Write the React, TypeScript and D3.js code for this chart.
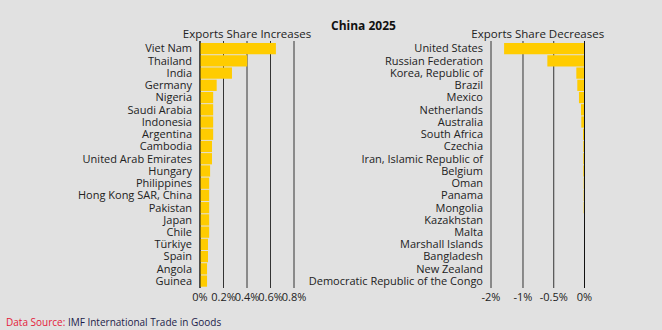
import React from "react";
import * as d3 from "d3";

const W = 662;
const H = 330;

const incCountries = [
  "Viet Nam", "Thailand", "India", "Germany", "Nigeria", "Saudi Arabia", "Indonesia",
  "Argentina", "Cambodia", "United Arab Emirates", "Hungary", "Philippines",
  "Hong Kong SAR, China", "Pakistan", "Japan", "Chile", "Türkiye", "Spain", "Angola", "Guinea",
];
const incValues = [
  0.646, 0.402, 0.272, 0.142, 0.112, 0.112, 0.112, 0.112, 0.102, 0.102, 0.086, 0.078,
  0.078, 0.078, 0.078, 0.078, 0.068, 0.068, 0.06, 0.06,
];

const decCountries = [
  "United States", "Russian Federation", "Korea, Republic of", "Brazil", "Mexico",
  "Netherlands", "Australia", "South Africa", "Czechia", "Iran, Islamic Republic of",
  "Belgium", "Oman", "Panama", "Mongolia", "Kazakhstan", "Malta", "Marshall Islands",
  "Bangladesh", "New Zealand", "Democratic Republic of the Congo",
];
const decValues = [
  -1.307, -0.604, -0.133, -0.117, -0.09, -0.057, -0.052, -0.024, -0.02, -0.02, -0.02,
  -0.014, -0.014, -0.014, -0.008, -0.008, -0.006, -0.006, -0.005, -0.005,
];

const incTicks = [0, 0.2, 0.4, 0.6, 0.8];
const incTickLabels = ["0%", "0.2%", "0.4%", "0.6%", "0.8%"];
const decTicks = [-1.52, -1, -0.5, 0];
const decTickLabels = ["-2%", "-1%", "-0.5%", "0%"];

const title = "China 2025";
const incTitle = "Exports Share Increases";
const decTitle = "Exports Share Decreases";

const FONT = "'Open Sans', sans-serif";
const BAR = "#ffcc00";
const TEXT = "#222";

function Panel({ names, values, domain, range, ticks, tickLabels, heading, labelX }: any) {
  const x = d3.scaleLinear().domain(domain).range(range);
  const y = d3.scaleBand().domain(names).range([42.5, 287.2]).paddingInner(0.08).paddingOuter(0.04);
  const zero = x(0);
  return (
    <g>
      <text x={(range[0] + range[1]) / 2} y={38} textAnchor="middle" fontSize={11.5} fill={TEXT} fontFamily={FONT}>
        {heading}
      </text>
      {ticks.map((t: number, i: number) => (
        <line key={"g" + i} x1={x(t)} x2={x(t)} y1={41} y2={288} stroke="#333" strokeWidth={1} />
      ))}
      {names.map((n: string, i: number) => (
        <rect key={"b" + i} x={Math.min(x(values[i]), zero)} y={y(n)} width={Math.abs(x(values[i]) - zero)}
          height={y.bandwidth()} fill={BAR} />
      ))}
      <line x1={zero} x2={zero} y1={41} y2={288} stroke="#111" strokeWidth={1} />
      {names.map((n: string, i: number) => (
        <text key={"l" + i} x={labelX} y={(y(n) as number) + y.bandwidth() / 2} dy="0.35em" textAnchor="end"
          fontSize={11} fill={TEXT} fontFamily={FONT}>
          {n}
        </text>
      ))}
      {ticks.map((t: number, i: number) => (
        <text key={"t" + i} x={x(t)} y={300.5} textAnchor="middle" fontSize={11} fill={TEXT} fontFamily={FONT}>
          {tickLabels[i]}
        </text>
      ))}
    </g>
  );
}

export default function App() {
  return (
    <svg width={W} height={H} style={{ position: "absolute", left: 0, top: 0, background: "#e1e1e1" }}>
      <rect x={0} y={0} width={W} height={H} fill="#e1e1e1" />
      <text x={331} y={30} fontSize={12} fontWeight="bold" fill="#111" fontFamily={FONT}>{title}</text>
      <Panel names={incCountries} values={incValues} domain={[0, 0.8]} range={[200, 294]}
        ticks={incTicks} tickLabels={incTickLabels} heading={incTitle} labelX={192} />
      <Panel names={decCountries} values={decValues} domain={[-1.52, 0]} range={[491, 584.5]}
        ticks={decTicks} tickLabels={decTickLabels} heading={decTitle} labelX={483} />
      <text x={6} y={325.5} fontSize={10} fontFamily={FONT}>
        <tspan fill="#e4203a">Data Source: </tspan>
        <tspan fill="#1c1c4a">IMF International Trade in Goods</tspan>
      </text>
    </svg>
  );
}
